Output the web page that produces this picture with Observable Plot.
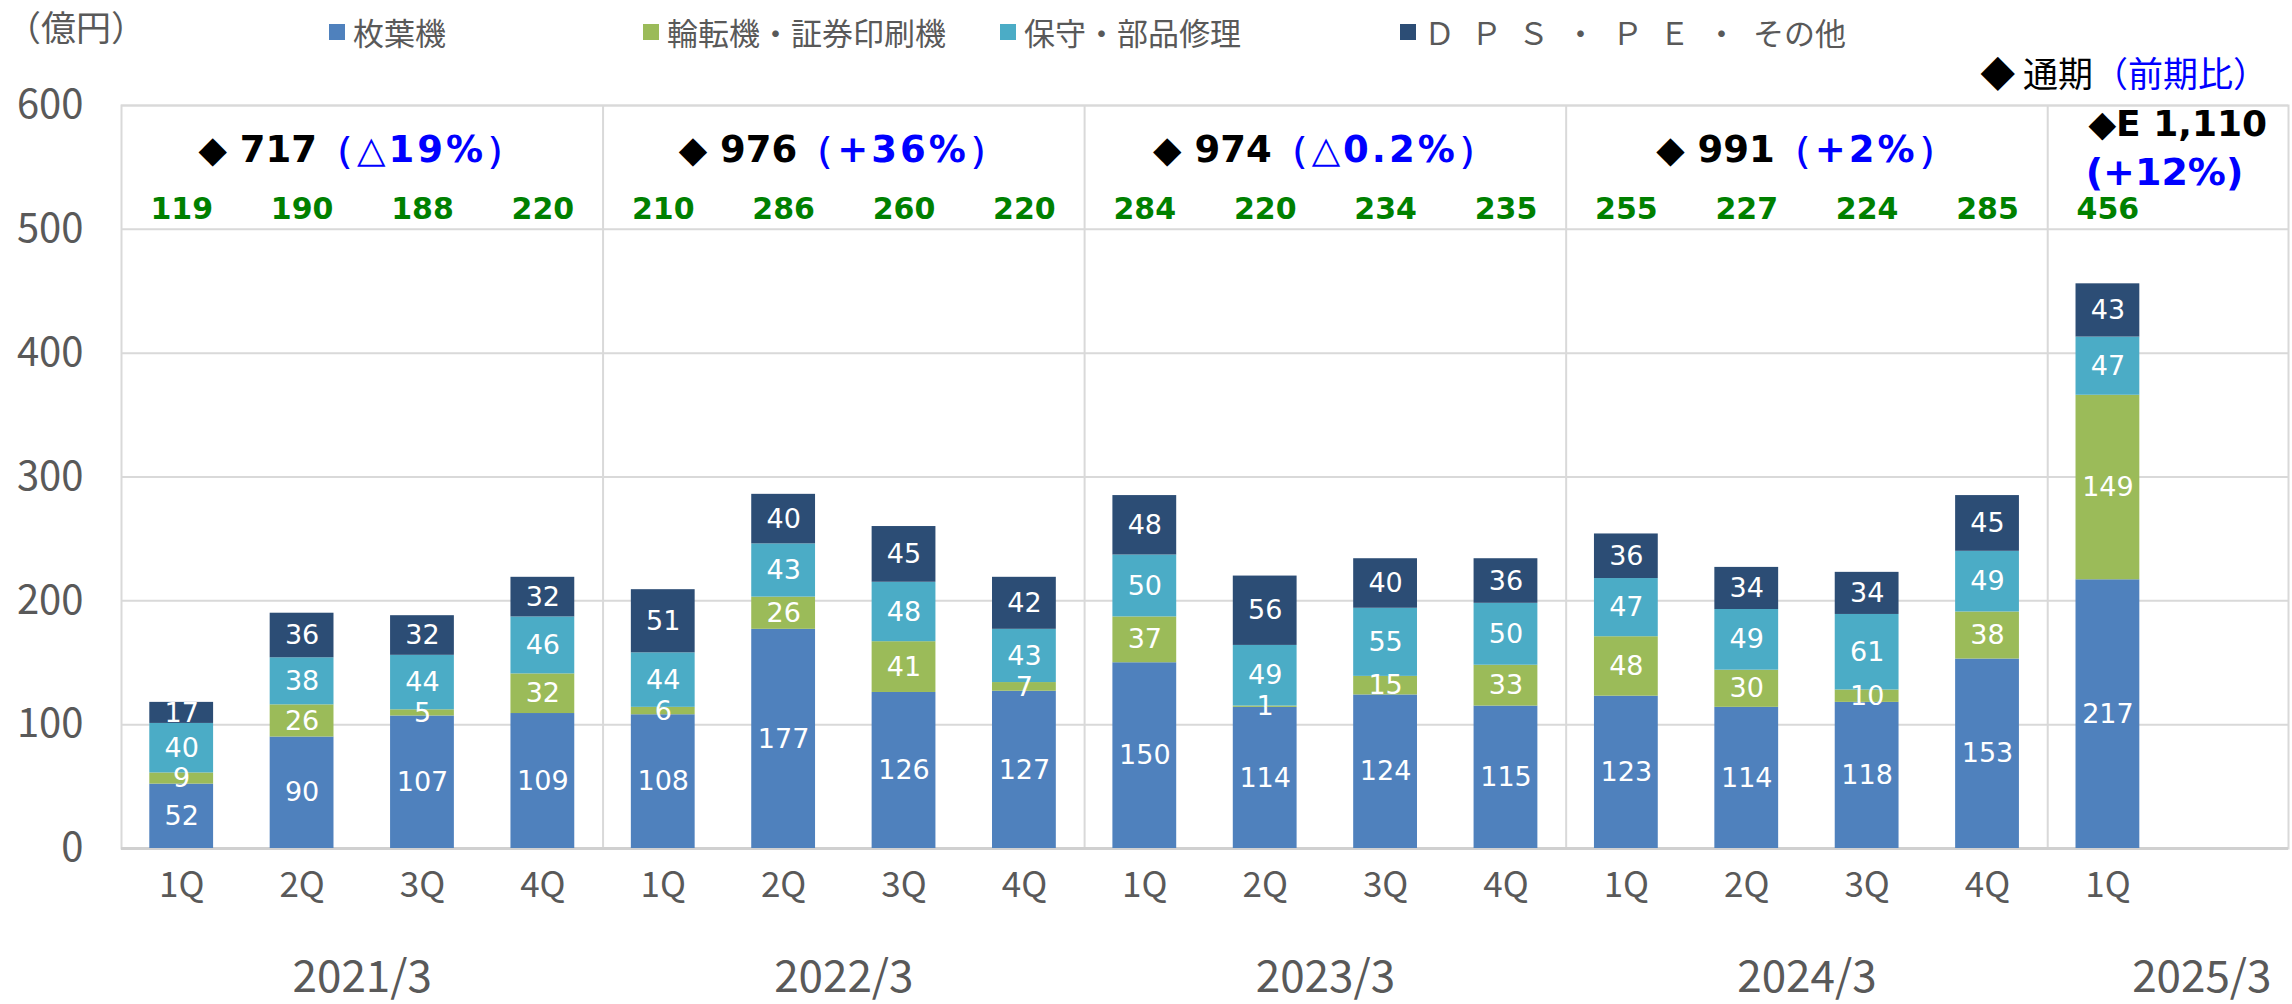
<!DOCTYPE html>
<html><head><meta charset="utf-8">
<script src="https://cdn.jsdelivr.net/npm/d3@7"></script>
<script src="https://cdn.jsdelivr.net/npm/@observablehq/plot@0.6"></script>
<style>
body{margin:0;background:#fff;font-family:"Noto Sans CJK JP","Noto Sans",sans-serif;}
#wrap{position:relative;width:2292px;height:1004px;overflow:hidden;}
.ov{position:absolute;white-space:nowrap;line-height:1;}
.sw{display:inline-block;width:16px;height:16px;margin-right:8px;vertical-align:middle;}
</style></head><body><div id="wrap"></div>
<script>
// ---- data ----
const series = ["枚葉機", "輪転機・証券印刷機", "保守・部品修理", "ＤＰＳ・ＰＥ・その他"];
const colors = ["#4f81bd", "#9bbb59", "#4bacc6", "#2c4d75"];
const quarters = ["1Q","2Q","3Q","4Q","1Q","2Q","3Q","4Q","1Q","2Q","3Q","4Q","1Q","2Q","3Q","4Q","1Q"];
const fiscalYearOfBar = ["2021/3","2021/3","2021/3","2021/3","2022/3","2022/3","2022/3","2022/3","2023/3","2023/3","2023/3","2023/3","2024/3","2024/3","2024/3","2024/3","2025/3"];
const sheetFed    = [52, 90, 107, 109, 108, 177, 126, 127, 150, 114, 124, 115, 123, 114, 118, 153, 217];
const rotary      = [9, 26, 5, 32, 6, 26, 41, 7, 37, 1, 15, 33, 48, 30, 10, 38, 149];
const maintenance = [40, 38, 44, 46, 44, 43, 48, 43, 50, 49, 55, 50, 47, 49, 61, 49, 47];
const dpsOther    = [17, 36, 32, 32, 51, 40, 45, 42, 48, 56, 40, 36, 36, 34, 34, 45, 43];
const quarterTotals = [119, 190, 188, 220, 210, 286, 260, 220, 284, 220, 234, 235, 255, 227, 224, 285, 456];
const years = ["2021/3", "2022/3", "2023/3", "2024/3", "2025/3"];
const annualTotals = ["717", "976", "974", "991", "E 1,110"];
const annualChange = ["（△19%）", "（+36%）", "（△0.2%）", "（+2%）", "(+12%)"];
const yTicks = [0, 100, 200, 300, 400, 500, 600];
const unitLabel = "（億円）";
const annualLegend = ["◆ 通期", "（前期比）"];

// ---- build table ----
const keys = quarters.map((q, i) => fiscalYearOfBar[i] + " " + q);
const domain = [...keys, "__pad"];
const seriesValues = [sheetFed, rotary, maintenance, dpsOther];
const rows = [];
keys.forEach((k, i) => series.forEach((s, j) => rows.push({key: k, series: s, value: seriesValues[j][i]})));
const bars = keys.map((k, i) => ({key: k, quarter: quarters[i], total: quarterTotals[i]}));
const separators = keys.filter((k, i) => i > 0 && quarters[i] === "1Q");

const W = 2292, H = 1004, ML = 121, MR = 4, MT = 105, MB = 156;
const step = (W - ML - MR) / domain.length;
const font = '"Noto Sans CJK JP","Noto Sans",sans-serif';
const numFont = '"DejaVu Sans",Verdana,sans-serif';

const chart = Plot.plot({
  width: W, height: H,
  marginLeft: ML, marginRight: MR, marginTop: MT, marginBottom: MB,
  style: {fontFamily: font, background: "white", overflow: "visible"},
  x: {type: "band", domain, paddingInner: 0.47, paddingOuter: 0.235, round: false, axis: null},
  y: {domain: [0, 600], axis: null},
  color: {domain: series, range: colors},
  marks: [
    Plot.ruleY(yTicks, {stroke: "#d9d9d9", strokeWidth: 2}),
    Plot.ruleX(separators, {x: d => d, dx: -step / 2, stroke: "#d9d9d9", strokeWidth: 2}),
    Plot.frame({stroke: "#d9d9d9", strokeWidth: 2}),
    Plot.ruleY([0], {stroke: "#d0d0d0", strokeWidth: 3}),
    Plot.barY(rows, {x: "key", y: "value", fill: "series", order: series}),
    Plot.text(rows, Plot.stackY({x: "key", y: "value", z: "series", order: series, text: d => String(d.value), fill: "white", fontSize: 27, fontFamily: numFont})),
    Plot.axisY({ticks: yTicks, label: null, tickSize: 0, tickPadding: 38, fontSize: 40, fill: "#595959", fillOpacity: 1}),
    Plot.text(bars, {x: "key", text: "quarter", frameAnchor: "bottom", dy: 48, fontSize: 35, fill: "#595959"}),
    Plot.text(years.slice(0, 4), {x: y => y + " 2Q", dx: step / 2, frameAnchor: "bottom", dy: 143, fontSize: 44, fill: "#595959"}),
    Plot.text(years.slice(4), {x: y => y + " 1Q", dx: step * 0.78, frameAnchor: "bottom", dy: 143, fontSize: 44, fill: "#595959"}),
    Plot.text(bars, {x: "key", text: d => String(d.total), frameAnchor: "top", dy: 92, fontSize: 30, fontWeight: "bold", fill: "#008000", fontFamily: numFont}),
    Plot.text(years.slice(0, 4), {x: y => y + " 2Q", dx: step / 2, text: (y, i) => "◆ " + annualTotals[i], frameAnchor: "top", dy: 30, fontSize: 37, fontWeight: "bold", fill: "#000", fontFamily: numFont}),
    Plot.text(years.slice(4), {x: y => y + " 1Q", dx: step * 0.58, text: (y, i) => "◆" + annualTotals[4 + i], frameAnchor: "top", dy: 5, fontSize: 36, fontWeight: "bold", fill: "#000", fontFamily: numFont}),
    Plot.text(years.slice(4), {x: y => y + " 1Q", dx: step * 0.47, text: (y, i) => annualChange[4 + i], frameAnchor: "top", dy: 53, fontSize: 38, fontWeight: "bold", fill: "#0000ff", fontFamily: numFont})
  ]
});

// append the blue change part to each annual total
const annualTexts = d3.select(chart).selectAll("text").filter(function() { return this.textContent.startsWith("◆ "); });
annualTexts.each(function(_, i) {
  d3.select(this).append("tspan").attr("fill", "#0000ff").attr("letter-spacing", 3).text(annualChange[i]);
});

const wrap = document.getElementById("wrap");
wrap.appendChild(chart);

// overlays: unit label, legend, annual legend
const unit = document.createElement("div");
unit.className = "ov";
unit.style.cssText = "left:6px;top:8px;font-size:35px;color:#595959;";
unit.textContent = unitLabel;
wrap.appendChild(unit);

const legendX = [329, 643, 1000, 1400];
series.forEach((s, j) => {
  const d = document.createElement("div");
  d.className = "ov";
  d.style.cssText = `left:${legendX[j]}px;top:11px;font-size:31px;color:#595959;`;
  const sw = document.createElement("span");
  sw.className = "sw";
  sw.style.background = colors[j];
  d.appendChild(sw);
  const t = document.createElement("span");
  t.style.verticalAlign = "middle";
  if (j === 3) {
    const a = document.createElement("span");
    a.style.letterSpacing = "16px";
    a.textContent = s.slice(0, 7);
    const b = document.createElement("span");
    b.textContent = s.slice(7);
    t.appendChild(a); t.appendChild(b);
  } else {
    t.textContent = s;
  }
  d.appendChild(t);
  wrap.appendChild(d);
});

const al = document.createElement("div");
al.className = "ov";
al.style.cssText = "right:24px;top:54px;font-size:35px;color:#000;";
const a1 = document.createElement("span"); a1.textContent = annualLegend[0];
const a2 = document.createElement("span"); a2.textContent = annualLegend[1]; a2.style.color = "#0000ff";
al.appendChild(a1); al.appendChild(a2);
wrap.appendChild(al);
</script>
</body></html>
